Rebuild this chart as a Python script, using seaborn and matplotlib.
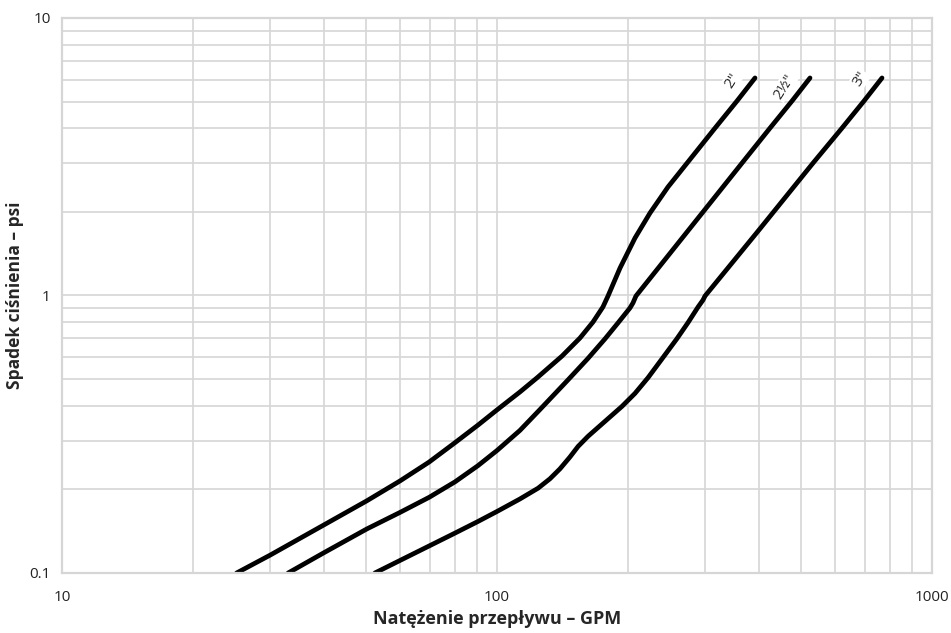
import pandas as pd
import seaborn as sns
import matplotlib.pyplot as plt
from matplotlib.ticker import FixedLocator, LogLocator, NullFormatter

# Dane (przeplyw GPM, spadek cisnienia psi)
gpm_2 = [25.2, 30.1, 40.0, 50.2, 59.8, 69.8, 80.1, 90.4, 100, 112.9, 123.6, 141.1,
         155.2, 166.2, 175.2, 180.0, 191.8, 207.6, 224.8, 247.2, 274.9, 317.1, 356.2,
         391.9]
psi_2 = [0.1, 0.116, 0.149, 0.182, 0.2145, 0.251, 0.295, 0.341, 0.387, 0.449, 0.505,
         0.605, 0.703, 0.802, 0.909, 0.996, 1.256, 1.611, 1.983, 2.46, 3.03, 4.01, 5.02,
         6.08]

gpm_25 = [33.1, 40.0, 50.2, 59.8, 69.8, 80.1, 90.4, 100, 112.9, 125.6, 145.6, 161.9,
          177.1, 189.7, 202.2, 205.4, 208.7, 297.6, 365.8, 424.2, 476.6, 524.3]
psi_25 = [0.1, 0.1183, 0.1441, 0.1652, 0.1873, 0.2131, 0.2436, 0.2763, 0.3264, 0.3885,
          0.4962, 0.5934, 0.6975, 0.796, 0.902, 0.940, 0.996, 2.0, 3.0, 4.01, 5.02, 6.08]

gpm_3 = [52.4, 59.8, 69.8, 80.1, 90.4, 100, 112.9, 124.3, 132.4, 139.6, 147.2, 153.6,
         161.9, 172.5, 193.8, 207.6, 222.4, 239.5, 259.3, 274.9, 289.9, 297.6, 300.8,
         400.2, 532.7, 621.0, 697.6, 767.6]
psi_3 = [0.1, 0.1109, 0.1251, 0.1393, 0.1533, 0.1666, 0.1848, 0.2021, 0.2186, 0.2374,
         0.262, 0.2858, 0.3108, 0.3393, 0.3985, 0.4438, 0.5053, 0.5909, 0.6993, 0.7986,
         0.909, 0.963, 0.996, 1.722, 3.0, 4.01, 5.02, 6.08]

rozmiary = ['2"', '2½"', '3"']
etykiety_gpm = [347, 457, 684]
etykiety_psi = [5.95, 5.65, 6.05]

x_ticks = [10, 100, 1000]
x_tick_labels = ["10", "100", "1000"]
y_ticks = [0.1, 1, 10]
y_tick_labels = ["0.1", "1", "10"]

df = pd.concat([
    pd.DataFrame({"gpm": gpm_2, "psi": psi_2, "rozmiar": rozmiary[0]}),
    pd.DataFrame({"gpm": gpm_25, "psi": psi_25, "rozmiar": rozmiary[1]}),
    pd.DataFrame({"gpm": gpm_3, "psi": psi_3, "rozmiar": rozmiary[2]}),
])

sns.set_style("white")
plt.rcParams["font.family"] = ["Open Sans", "DejaVu Sans"]

fig = plt.figure(figsize=(9.51, 6.33), dpi=100)
ax = fig.add_axes([0.0652, 0.0948, 0.9148, 0.8768])

sns.lineplot(data=df, x="gpm", y="psi", units="rozmiar", estimator=None,
             color="black", linewidth=3.4, solid_capstyle="round",
             solid_joinstyle="round", ax=ax)

ax.set_xscale("log")
ax.set_yscale("log")
ax.set_xlim(10, 1000)
ax.set_ylim(0.1, 10)

# Siatka glowna i pomocnicza
grid_color = "#d6d6d6"
ax.xaxis.set_major_locator(FixedLocator(x_ticks))
ax.yaxis.set_major_locator(FixedLocator(y_ticks))
ax.xaxis.set_minor_locator(LogLocator(base=10, subs=range(2, 10)))
ax.yaxis.set_minor_locator(LogLocator(base=10, subs=range(2, 10)))
ax.xaxis.set_minor_formatter(NullFormatter())
ax.yaxis.set_minor_formatter(NullFormatter())
ax.set_xticklabels(x_tick_labels)
ax.set_yticklabels(y_tick_labels)
ax.grid(which="both", color=grid_color, linewidth=1.2)
ax.set_axisbelow(True)
ax.tick_params(which="both", length=0, labelsize=11, colors="#222222")
ax.tick_params(axis="x", pad=12)
ax.tick_params(axis="y", pad=8)
for s in ax.spines.values():
    s.set_color(grid_color)
    s.set_linewidth(1.6)

# Etykiety krzywych
for nazwa, gx, gy in zip(rozmiary, etykiety_gpm, etykiety_psi):
    ax.text(gx, gy, nazwa, rotation=58, ha="center", va="center", fontsize=11,
            bbox=dict(facecolor="white", edgecolor="none", pad=0.5))

ax.set_xlabel("Natężenie przepływu – GPM", fontsize=13, fontweight="bold", labelpad=4)
ax.set_ylabel("Spadek ciśnienia – psi", fontsize=12.5, fontweight="bold", labelpad=4)
if ax.get_legend() is not None:
    ax.get_legend().remove()

plt.savefig("out.png", dpi=100)
